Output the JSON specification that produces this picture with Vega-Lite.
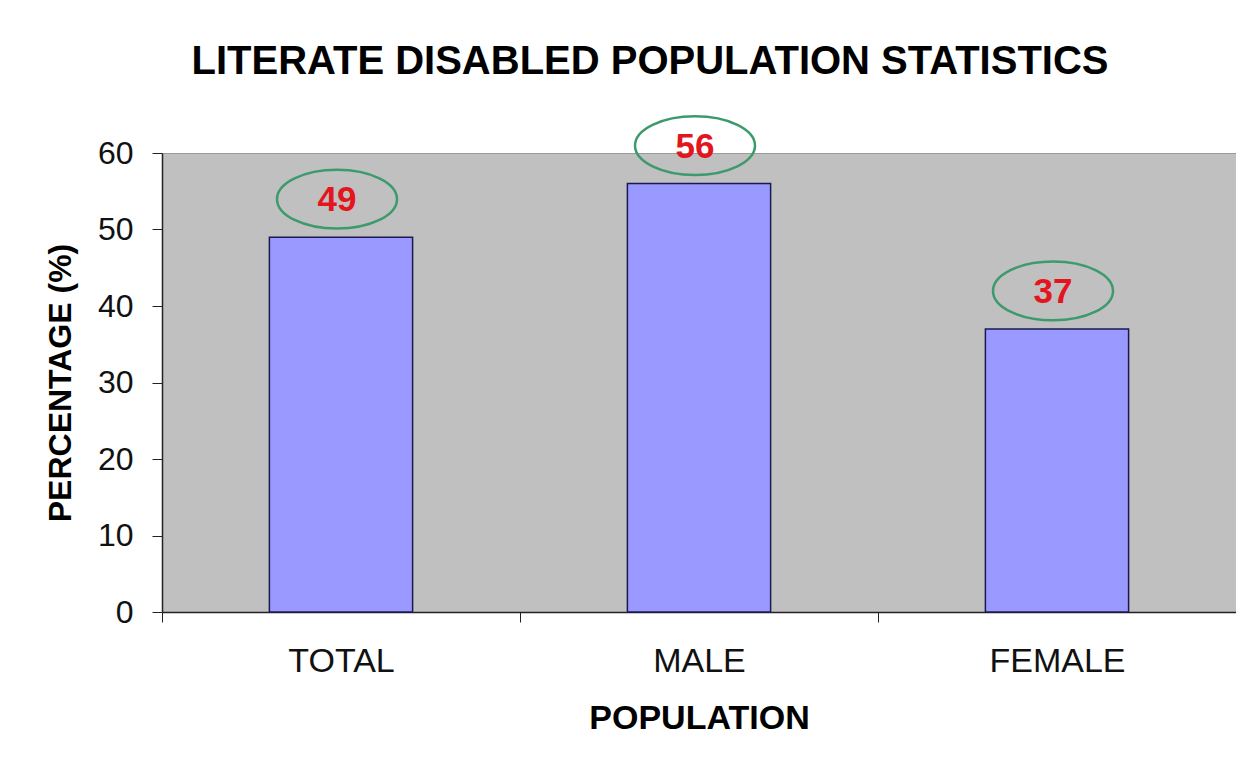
{
  "$schema": "https://vega.github.io/schema/vega-lite/v6.json",
  "autosize": "none",
  "width": 1074,
  "height": 459,
  "padding": {"left": 162, "top": 153, "right": 0, "bottom": 153},
  "background": "white",
  "title": {
    "text": "LITERATE DISABLED POPULATION STATISTICS",
    "font": "Liberation Sans",
    "fontSize": 40,
    "fontWeight": "bold",
    "color": "black",
    "anchor": "middle",
    "offset": 29,
    "dx": -49
  },
  "config": {
    "font": "Liberation Sans",
    "view": {"fill": "#C0C0C0", "stroke": "#9A9A9A", "strokeWidth": 1}
  },
  "data": {
    "values": [
      {"population": "TOTAL", "percentage": 49},
      {"population": "MALE", "percentage": 56},
      {"population": "FEMALE", "percentage": 37}
    ]
  },
  "encoding": {
    "x": {
      "field": "population",
      "type": "nominal",
      "sort": null,
      "scale": {"paddingInner": 0, "paddingOuter": 0},
      "axis": {
        "title": "POPULATION",
        "titleFontSize": 34,
        "titleFontWeight": "bold",
        "titleColor": "black",
        "titlePadding": 23,
        "labelAngle": 0,
        "labelFontSize": 34,
        "labelColor": "#111111",
        "labelPadding": 22,
        "tickBand": "extent",
        "tickSize": 10,
        "tickColor": "#222222",
        "domainColor": "#222222",
        "domainWidth": 1.5
      }
    },
    "y": {
      "field": "percentage",
      "type": "quantitative",
      "scale": {"domain": [0, 60], "nice": false},
      "axis": {
        "title": "PERCENTAGE (%)",
        "titleFontSize": 32,
        "titleFontWeight": "bold",
        "titleColor": "black",
        "titlePadding": 20,
        "values": [0, 10, 20, 30, 40, 50, 60],
        "grid": false,
        "labelFontSize": 32,
        "labelColor": "#111111",
        "labelPadding": 19,
        "tickSize": 10,
        "tickColor": "#222222",
        "domainColor": "#222222",
        "domainWidth": 1.5
      }
    }
  },
  "layer": [
    {
      "mark": {
        "type": "bar",
        "width": {"band": 0.4},
        "fill": "#9999FF",
        "stroke": "#1A1A50",
        "strokeWidth": 1.5
      }
    },
    {
      "mark": {
        "type": "point",
        "shape": "M -1 0 A 1 0.49 0 1 0 1 0 A 1 0.49 0 1 0 -1 0 Z",
        "size": 14400,
        "filled": false,
        "stroke": "#3C9A6C",
        "strokeWidth": 2.5,
        "opacity": 1,
        "xOffset": -4,
        "yOffset": -38
      }
    },
    {
      "mark": {
        "type": "text",
        "color": "#E3161E",
        "fontSize": 35,
        "fontWeight": "bold",
        "baseline": "middle",
        "align": "center",
        "xOffset": -4,
        "yOffset": -37
      },
      "encoding": {"text": {"field": "percentage", "type": "quantitative"}}
    }
  ]
}
